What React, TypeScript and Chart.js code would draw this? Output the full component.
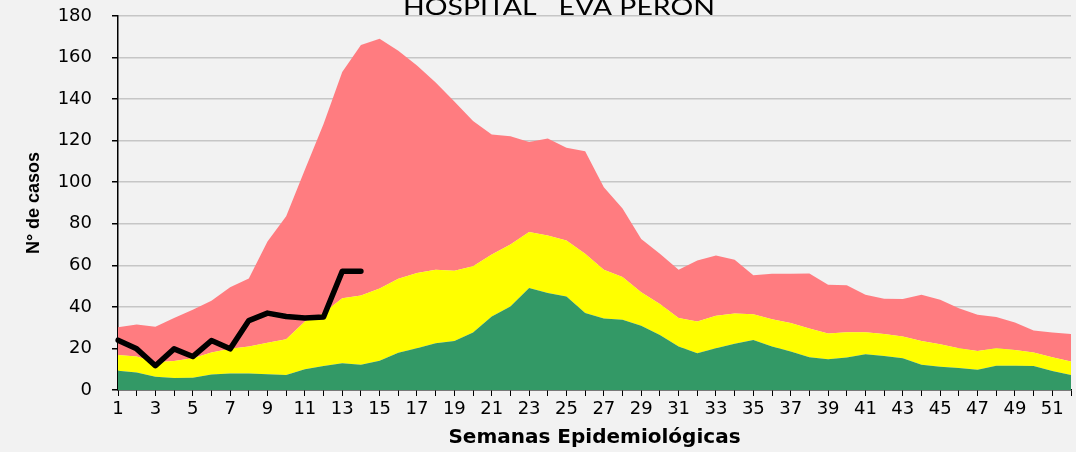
import React, { useEffect, useRef } from "react";
import { Chart, registerables } from "chart.js";

Chart.register(...registerables);

const weeks: string[] = Array.from({ length: 52 }, (_, i) => String(i + 1));

const lowerBound: number[] = [
  9.3, 8.4, 6.4, 5.8, 5.9, 7.4, 8, 8, 7.6, 7.2, 10, 11.6, 12.9, 12.2, 14.1, 17.9,
  20.1, 22.5, 23.6, 27.7, 35.4, 40.2, 49.1, 46.7, 45, 37, 34.4, 33.8, 30.9, 26.5,
  20.9, 17.7, 20.1, 22.2, 24.1, 20.9, 18.5, 15.8, 14.8, 15.6, 17.2, 16.4, 15.3,
  12.1, 11.2, 10.6, 9.8, 11.7, 11.7, 11.6, 9.2, 7.2,
];

const median: number[] = [
  16.9, 16.1, 13.3, 14, 15.3, 18, 19.9, 20.9, 22.8, 24.4, 33, 37, 44.2, 45.5, 48.9,
  53.5, 56.3, 57.9, 57.4, 59.5, 65.2, 70, 76.1, 74.3, 71.9, 65.6, 57.9, 54.4, 47,
  41.4, 34.6, 33, 35.7, 36.8, 36.5, 34.1, 32.2, 29.6, 27.2, 27.8, 27.8, 26.9, 25.7,
  23.6, 22, 20.1, 18.8, 20.1, 19.3, 18, 15.8, 13.7,
];

const upperBound: number[] = [
  30.2, 31.5, 30.4, 34.7, 38.6, 43, 49.5, 53.7, 71.5, 83.6, 106, 128, 153, 166, 169,
  163.3, 156.2, 148, 138.8, 129.5, 123, 122.1, 119.4, 121, 116.6, 114.9, 97.6, 87.4,
  72.7, 65.6, 57.9, 62.3, 64.7, 62.7, 55.2, 56, 56, 56.1, 50.7, 50.4, 45.8, 43.9,
  43.8, 45.8, 43.4, 39.4, 36.2, 35.1, 32.5, 28.6, 27.7, 27,
];

const currentYear: number[] = [
  24, 19.8, 11.7, 19.8, 16.1, 23.8, 19.8, 33.4, 37, 35.4, 34.6, 35.1, 57.1, 57.1,
];

const yTicks: number[] = [0, 20, 40, 60, 80, 100, 120, 140, 160, 180];

const chartTitle = "HOSPITAL   EVA PERON";
const xTitle = "Semanas Epidemiológicas";
const yTitle = "N° de casos";

const W = 1076;
const H = 452;

const backgroundPlugin = {
  id: "bgFill",
  beforeDraw(chart: any) {
    const ctx = chart.ctx;
    ctx.save();
    ctx.fillStyle = "#f2f2f2";
    ctx.fillRect(0, 0, chart.width, chart.height);
    ctx.restore();
  },
};

const titlePlugin = {
  id: "cutTitle",
  afterDraw(chart: any) {
    const ctx = chart.ctx;
    ctx.save();
    ctx.font = "24px Lato, 'Open Sans', sans-serif";
    ctx.fillStyle = "#000";
    ctx.textBaseline = "alphabetic";
    ctx.textAlign = "left";
    const w = ctx.measureText(chartTitle).width;
    const sx = 312 / w;
    ctx.translate(403, 15);
    ctx.scale(sx, 1);
    ctx.fillText(chartTitle, 0, 0);
    ctx.restore();
  },
};

export default function App() {
  const ref = useRef<HTMLCanvasElement | null>(null);

  useEffect(() => {
    if (!ref.current) return;
    const chart = new Chart(ref.current, {
      type: "line",
      data: {
        labels: weeks,
        datasets: [
          {
            label: "Actual",
            data: currentYear,
            borderColor: "#000000",
            borderWidth: 5.5,
            borderJoinStyle: "round",
            borderCapStyle: "round",
            pointRadius: 0,
            fill: false,
            tension: 0,
          },
          {
            label: "Seguridad",
            data: lowerBound,
            borderWidth: 0,
            borderColor: "rgba(0,0,0,0)",
            backgroundColor: "#339966",
            pointRadius: 0,
            fill: "origin",
            tension: 0,
          },
          {
            label: "Alerta",
            data: median,
            borderWidth: 0,
            borderColor: "rgba(0,0,0,0)",
            backgroundColor: "#ffff00",
            pointRadius: 0,
            fill: "-1",
            tension: 0,
          },
          {
            label: "Brote",
            data: upperBound,
            borderWidth: 0,
            borderColor: "rgba(0,0,0,0)",
            backgroundColor: "#ff7c80",
            pointRadius: 0,
            fill: "-1",
            tension: 0,
          },
        ],
      },
      options: {
        animation: false,
        responsive: false,
        devicePixelRatio: 1,
        events: [],
        layout: { padding: { top: 16, right: 5, bottom: 0, left: 0 } },
        plugins: {
          legend: { display: false },
          tooltip: { enabled: false },
          title: { display: false },
          filler: { propagate: false },
        },
        scales: {
          x: {
            type: "category",
            offset: false,
            afterFit(scale: any) {
              scale.height = 62;
            },
            grid: {
              offset: false,
              drawOnChartArea: false,
              drawTicks: true,
              tickLength: 6,
              tickColor: "#000",
              tickWidth: 1,
            },
            border: { display: true, color: "#000", width: 1.5 },
            ticks: {
              autoSkip: false,
              maxRotation: 0,
              minRotation: 0,
              padding: 3,
              color: "#000",
              font: { family: "'DejaVu Sans', sans-serif", size: 18 },
              callback: (_v: any, i: number) => (i % 2 === 0 ? weeks[i] : ""),
            },
            title: {
              display: true,
              text: xTitle,
              color: "#000",
              font: { family: "'DejaVu Sans', sans-serif", size: 20, weight: "bold" },
              padding: { top: 0, bottom: 2 },
            },
          },
          y: {
            min: 0,
            max: 180,
            afterFit(scale: any) {
              scale.width = 118;
              scale.paddingTop = 0;
              scale.paddingBottom = 0;
            },
            afterBuildTicks(scale: any) {
              scale.ticks = yTicks.map((v) => ({ value: v }));
            },
            grid: {
              color: (c: any) => (c.tick && c.tick.value === 0 ? "rgba(0,0,0,0)" : "#c6c6c6"),
              lineWidth: 1.5,
              drawTicks: true,
              tickLength: 6,
              tickColor: "#000",
            },
            border: { display: true, color: "#000", width: 1.5 },
            ticks: {
              padding: 20,
              color: "#000",
              font: { family: "'DejaVu Sans', sans-serif", size: 18 },
            },
            title: {
              display: true,
              text: yTitle,
              color: "#000",
              font: { family: "'Liberation Sans', Arial, sans-serif", size: 18, weight: "bold" },
              padding: { top: 23, bottom: 0 },
            },
          },
        },
      },
      plugins: [backgroundPlugin, titlePlugin],
    } as any);
    return () => chart.destroy();
  }, []);

  return (
    <div style={{ position: "fixed", left: 0, top: 0, width: W, height: H, background: "#f2f2f2" }}>
      <canvas ref={ref} width={W} height={H} style={{ display: "block" }} />
    </div>
  );
}
